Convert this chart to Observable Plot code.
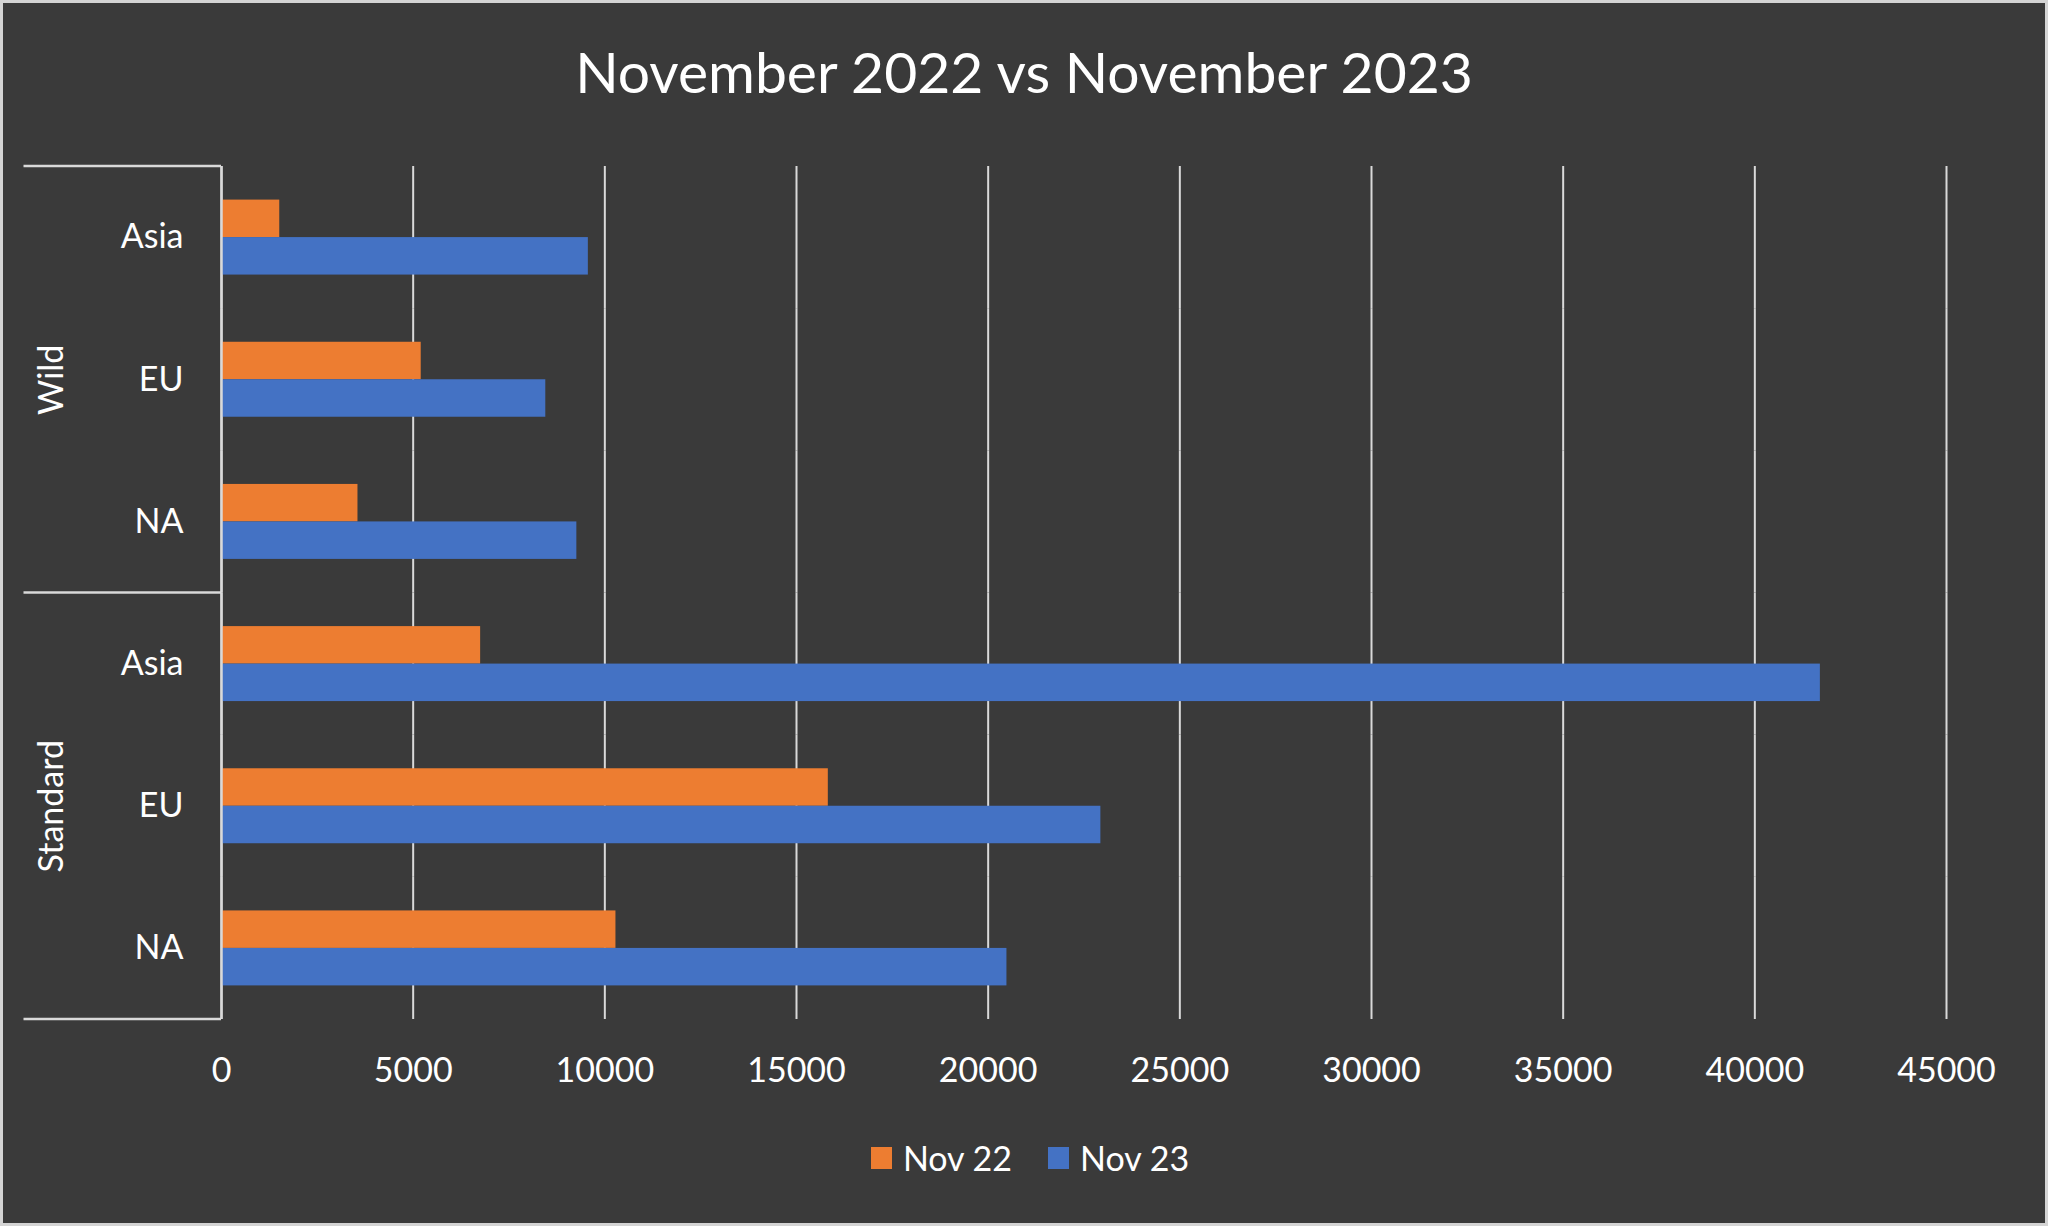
<!DOCTYPE html>
<html>
<head>
<meta charset="utf-8">
<script src="https://cdn.jsdelivr.net/npm/d3@7"></script>
<script src="https://cdn.jsdelivr.net/npm/@observablehq/plot@0.6"></script>
<style>
  html, body { margin: 0; padding: 0; background: #3a3a3a; }
  #wrap { position: relative; width: 2048px; height: 1226px; background: #3a3a3a;
          box-shadow: inset 0 0 0 3px #d4d4d4; overflow: hidden;
          font-family: Lato, "Open Sans", sans-serif; color: #ffffff; }
  #title { position: absolute; left: 0; top: 43px; width: 2048px; text-align: center;
           font-size: 57px; line-height: 57px; }
  #chart { position: absolute; left: 0; top: 130px; }
  #legend { position: absolute; left: 0; top: 1141px; width: 2048px; padding-left: 12px; box-sizing: border-box;
            display: flex; justify-content: center; align-items: center; font-size: 34px; line-height: 34px; }
  .item { display: flex; align-items: center; margin: 0 18px; }
  .sw { display: inline-block; width: 21px; height: 22px; margin-right: 11px; }
</style>
</head>
<body>
<div id="wrap">
  <div id="title">November 2022 vs November 2023</div>
  <div id="chart"></div>
  <div id="legend"></div>
</div>
<script>
// ---- data ----
const groups  = ["Wild", "Wild", "Wild", "Standard", "Standard", "Standard"];
const regions = ["Asia", "EU", "NA", "Asia", "EU", "NA"];
const nov22   = [1520, 5210, 3560, 6760, 15830, 10290];
const nov23   = [9570, 8460, 9270, 41710, 22940, 20490];
const series  = ["Nov 22", "Nov 23"];
const seriesColors = ["#ED7D31", "#4472C4"];
const xTicks  = [0, 5000, 10000, 15000, 20000, 25000, 30000, 35000, 40000, 45000];
const groupNames = ["Wild", "Standard"];

// ---- build table ----
const keys = groups.map((g, i) => g + "|" + regions[i]);
const regionOf = Object.fromEntries(keys.map((k, i) => [k, regions[i]]));
const rows = [];
keys.forEach((k, i) => {
  rows.push({key: k, series: series[0], value: nov22[i]});
  rows.push({key: k, series: series[1], value: nov23[i]});
});
// group label sits in the middle category of each group
const groupLabels = groupNames.map(g => {
  const idx = groups.map((x, i) => x === g ? i : -1).filter(i => i >= 0);
  return {key: keys[idx[Math.floor(idx.length / 2)]], label: g};
});

const W = 2048, H = 1000;
const mLeft = 221, mRight = 102, mTop = 36, mBottom = 111;
const lineColor = "#d9d9d9";

const chart = Plot.plot({
  width: W,
  height: H,
  marginLeft: mLeft,
  marginRight: mRight,
  marginTop: mTop,
  marginBottom: mBottom,
  style: {background: "transparent", color: "#ffffff", fontFamily: "Lato, 'Open Sans', sans-serif", fontSize: "34px"},
  x: {domain: [0, 45000], axis: null},
  y: {domain: series, paddingInner: 0, paddingOuter: 0.896, axis: null, round: false},
  fy: {domain: keys, padding: 0, axis: "left", tickSize: 0, tickPadding: 38,
       tickFormat: k => regionOf[k], label: null, round: false},
  color: {domain: series, range: seriesColors},
  marks: [
    Plot.gridX(xTicks, {stroke: lineColor, strokeOpacity: 1, strokeWidth: 2}),
    Plot.barX(rows, {x: "value", y: "series", fy: "key", fill: "series"}),
    Plot.ruleX([0], {stroke: lineColor, strokeWidth: 2.5}),
    Plot.axisX(xTicks, {anchor: "bottom", tickSize: 0, tickPadding: 38, tickFormat: d => String(d),
                        fontSize: 34, fill: "#ffffff", label: null}),
    Plot.text(groupLabels, {fy: "key", text: "label", frameAnchor: "left", textAnchor: "middle",
                            dx: -169, rotate: -90, fontSize: 34, fill: "#ffffff"})
  ]
});

// left category-bracket lines drawn from the fy scale
const fy = chart.scale("fy");
const ys = [fy.apply(keys[0]), fy.apply(keys[3]), fy.apply(keys[5]) + fy.bandwidth];
d3.select(chart).append("g")
  .selectAll("line").data(ys).join("line")
  .attr("x1", 23.5).attr("x2", mLeft)
  .attr("y1", d => d).attr("y2", d => d)
  .attr("stroke", lineColor).attr("stroke-width", 2.5);

document.getElementById("chart").appendChild(chart);

// legend
const legend = d3.select("#legend");
series.forEach((s, i) => {
  const it = legend.append("div").attr("class", "item");
  it.append("span").attr("class", "sw").style("background", seriesColors[i]);
  it.append("span").text(s);
});
</script>
</body>
</html>
